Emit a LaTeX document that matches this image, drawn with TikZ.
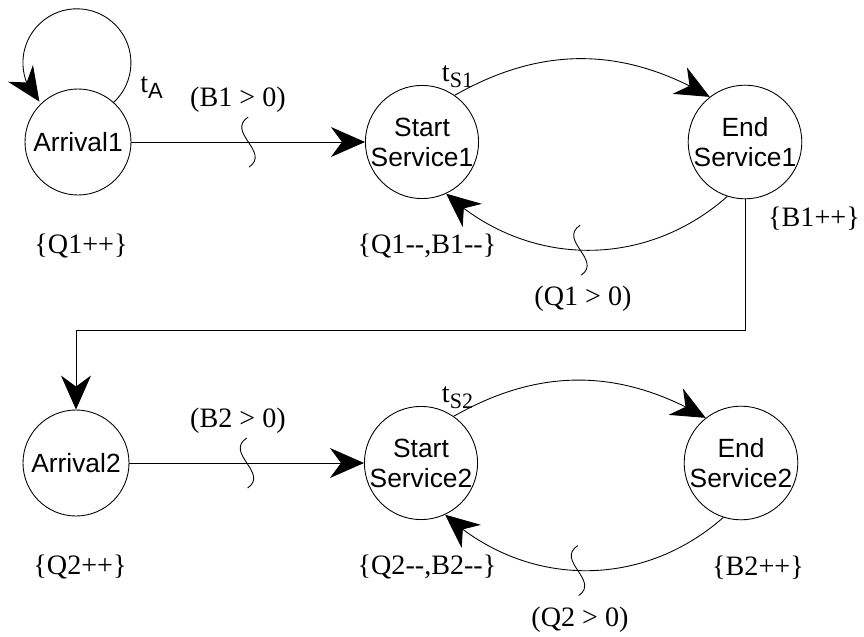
\documentclass[tikz,border=0pt]{standalone}
\usepackage{fontspec}
\setmainfont{Liberation Serif}
\newfontfamily\statefont{Liberation Sans}
\usetikzlibrary{arrows.meta,bending,calc}

% transition delay label: t with a lowered tag
\newcommand{\tdelay}[1]{t\raisebox{-0.45ex}{\fontsize{12.5}{12.5}\selectfont #1}}

\begin{document}
\begin{tikzpicture}[
  font=\fontsize{16}{18}\selectfont,
  >={Stealth[length=0.68cm, width=0.6cm, inset=0.22cm, flex]},
  event/.style={circle, draw, line width=0.5pt, minimum size=2.12cm, inner sep=0pt, align=center, font=\statefont\fontsize{15}{17}\selectfont},
  link/.style={->, line width=0.5pt},
  squig/.pic={\draw[line width=0.5pt] (0,0.5) .. controls (-0.45,0.2) and (0.45,-0.2) .. (0.02,-0.5);}
]
\useasboundingbox (0,0) rectangle (17.28,12.72);

% First server: arrival, start and end of service
\node[event] (arr1) at (1.56,9.88) {Arrival1};
\node[event] (ss1) at (8.44,9.88) {Start\\Service1};
\node[event] (es1) at (14.90,9.88) {End\\Service1};

\draw[link] (arr1.48) arc[start angle=-47, end angle=226, radius=1.08];
\draw[link] (arr1) -- coordinate (cut1) (ss1);
\pic at (cut1) {squig};
\draw[link] (ss1.55) to[bend left=30] (es1.128);
\draw[link] (es1.-108) to[bend left=42] coordinate[pos=0.52] (cut2) (ss1.-65);
\pic at (cut2) {squig};

\node (ta) at (3.03,10.97) {\tdelay{\statefont A}};
\node (ts1) at (9.15,11.19) {\tdelay{S1}};
\node (guardb1) at (4.76,10.72) {(B1 > 0)};
\node (guardq1) at (11.66,6.74) {(Q1 > 0)};
\node (setq1) at (1.62,7.80) {\{Q1++\}};
\node (setqb1) at (8.54,7.80) {\{Q1-{}-,B1-{}-\}};
\node (setb1) at (16.28,8.34) {\{B1++\}};

% Second server, fed by the first
\node[event] (arr2) at (1.52,3.46) {Arrival2};
\node[event] (ss2) at (8.42,3.46) {Start\\Service2};
\node[event] (es2) at (14.82,3.46) {End\\Service2};

\draw[link] (es1.south) |- ($(arr2.north)+(0,1.58)$) -- (arr2.north);
\draw[link] (arr2) -- coordinate (cut3) (ss2);
\pic at (cut3) {squig};
\draw[link] (ss2.55) to[bend left=30] (es2.128);
\draw[link] (es2.-108) to[bend left=42] coordinate[pos=0.52] (cut4) (ss2.-65);
\pic at (cut4) {squig};

\node (ts2) at (9.15,4.77) {\tdelay{S2}};
\node (guardb2) at (4.76,4.30) {(B2 > 0)};
\node (guardq2) at (11.60,0.32) {(Q2 > 0)};
\node (setq2) at (1.60,1.38) {\{Q2++\}};
\node (setqb2) at (8.54,1.38) {\{Q2-{}-,B2-{}-\}};
\node (setb2) at (15.16,1.36) {\{B2++\}};

\end{tikzpicture}
\end{document}
